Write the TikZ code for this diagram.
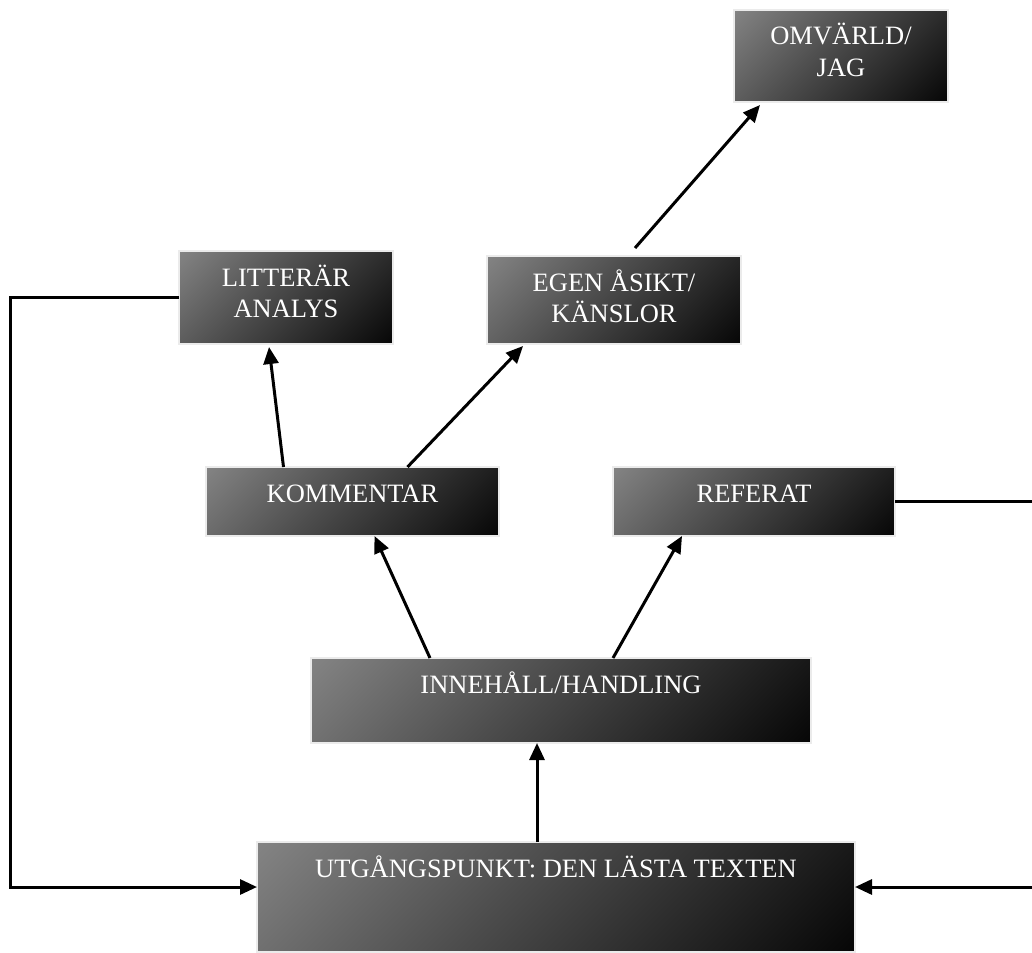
\documentclass[tikz,border=0pt]{standalone}
\usepackage{fontspec}
\setmainfont{Liberation Serif}
\usepackage{tikz}
\usetikzlibrary{arrows.meta}
\definecolor{boxtop}{gray}{0.52}
\definecolor{boxmid}{gray}{0.30}
\definecolor{boxbot}{gray}{0.02}
\definecolor{boxrim}{gray}{0.92}
\pgfdeclareverticalshading{boxshade}{100bp}{color(0bp)=(boxbot); color(14bp)=(boxbot);
  color(55bp)=(boxmid); color(86bp)=(boxtop); color(100bp)=(boxtop)}
\newcommand\boxlabel[3]{\parbox[c][#2][t]{#1}{\centering\rule{0pt}{35pt}#3}}
\begin{document}
\begin{tikzpicture}[x=1pt,y=-1pt,
  textbox/.style={anchor=north west,inner sep=0pt,outer sep=0pt,
    shading=boxshade,shading angle=45,
    draw=boxrim,line width=1.5pt,text=white,
    font=\fontsize{26.5}{31.5}\selectfont},
  conn/.style={line width=3pt,-{Triangle[length=17pt,width=15pt]}}]
\useasboundingbox (0,0) rectangle (1032,952);
\clip (0,0) rectangle (1032,952);
\node[textbox] (omv) at (734,10) {\boxlabel{214pt}{92pt}{OMVÄRLD/\\JAG}};
\node[textbox] (lit) at (179,251) {\boxlabel{214pt}{93pt}{LITTERÄR\\ANALYS}};
\node[textbox] (egen) at (487,256) {\boxlabel{254pt}{88pt}{EGEN ÅSIKT/\\KÄNSLOR}};
\node[textbox] (kom) at (206,467) {\boxlabel{293pt}{69pt}{KOMMENTAR}};
\node[textbox] (ref) at (613,467) {\boxlabel{282pt}{69pt}{REFERAT}};
\node[textbox] (inn) at (311,658) {\boxlabel{500pt}{85pt}{INNEHÅLL/HANDLING}};
\node[textbox] (utg) at (257,842) {\boxlabel{598pt}{110pt}{UTGÅNGSPUNKT: DEN LÄSTA TEXTEN}};
% rails outside the boxes
\coordinate (leftrail) at (10,0);
\coordinate (rightrail) at (1045,0);
\draw[conn] ([xshift=-19pt]utg.north) -- ([xshift=-19pt]utg.north |- inn.south);
\draw[conn] ([xshift=-131pt]inn.north) -- ([xshift=22pt]kom.south);
\draw[conn] ([xshift=52pt]inn.north) -- ([xshift=-72pt]ref.south);
\draw[conn] ([xshift=-69pt]kom.north) -- ([xshift=-17pt,yshift=-3pt]lit.south);
\draw[conn] ([xshift=55pt]kom.north) -- ([xshift=-91pt,yshift=-2pt]egen.south);
\draw[conn] ([xshift=21pt,yshift=8pt]egen.north) -- ([xshift=-81pt,yshift=-3pt]omv.south);
\draw[conn] (lit.west) -- (lit.west -| leftrail) |- ([yshift=10pt]utg.west);
\draw[conn] (ref.east) -- (ref.east -| rightrail) |- ([yshift=10pt]utg.east);
\end{tikzpicture}
\end{document}
